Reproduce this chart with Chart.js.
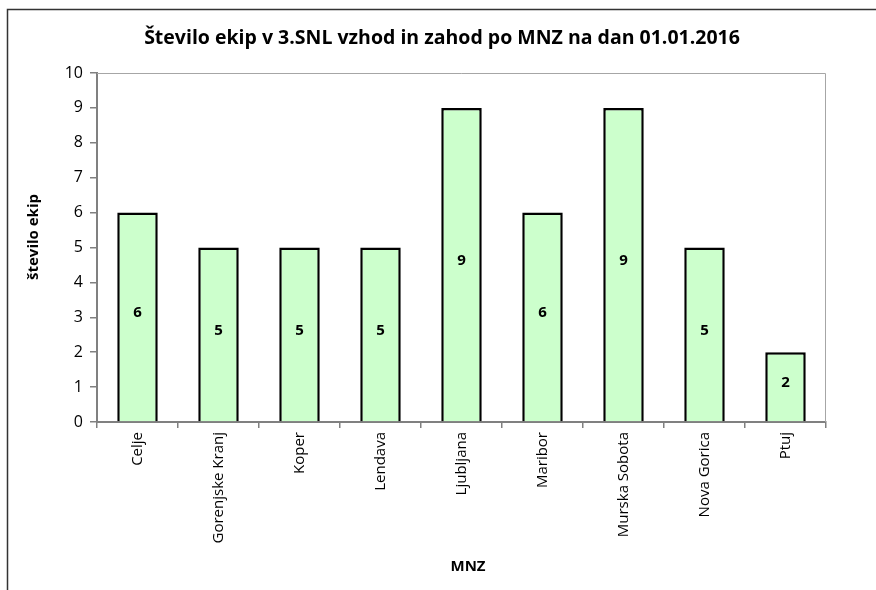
<!DOCTYPE html>
<html>
<head>
<meta charset="utf-8">
<script src="https://cdn.jsdelivr.net/npm/chart.js@4.4.0/dist/chart.umd.min.js"></script>
<style>
  html, body { margin: 0; padding: 0; background: #fff; }
  canvas { display: block; }
</style>
</head>
<body>
<canvas id="chart" width="876" height="590"></canvas>
<script>
// podatki
const categories = ['Celje', 'Gorenjske Kranj', 'Koper', 'Lendava', 'Ljubljana', 'Maribor', 'Murska Sobota', 'Nova Gorica', 'Ptuj'];
const teamCounts = [6, 5, 5, 5, 9, 6, 9, 5, 2];
const yMin = 0;
const yMax = 10;
const yStep = 1;

const chartTitle = 'Število ekip v 3.SNL vzhod in zahod po MNZ na dan 01.01.2016';
const xTitle = 'MNZ';
const yTitle = 'število ekip';

const FONT = "'Open Sans', 'DejaVu Sans', sans-serif";

// okvir, naslovi in vrednosti v stolpcih
const decorPlugin = {
    id: 'decor',
    beforeDraw(chart) {
        const ctx = chart.ctx;
        ctx.save();
        ctx.strokeStyle = '#333';
        ctx.lineWidth = 1.5;
        ctx.strokeRect(7.5, 9.5, 900, 600);

        ctx.fillStyle = '#000';
        ctx.textAlign = 'center';
        ctx.textBaseline = 'middle';
        ctx.font = 'bold 19.5px ' + FONT;
        ctx.fillText(chartTitle, 442, 38);

        ctx.font = 'bold 15px ' + FONT;
        ctx.fillText(xTitle, 468, 567);

        ctx.translate(34, 237);
        ctx.rotate(-Math.PI / 2);
        ctx.fillText(yTitle, 0, 0);
        ctx.restore();
    },
    beforeDatasetsDraw(chart) {
        const { ctx, chartArea: a } = chart;
        ctx.save();
        ctx.strokeStyle = '#a6a6a6';
        ctx.lineWidth = 1;
        ctx.beginPath();
        ctx.moveTo(a.left, a.top + 0.5);
        ctx.lineTo(a.right - 0.5, a.top + 0.5);
        ctx.lineTo(a.right - 0.5, a.bottom);
        ctx.stroke();
        ctx.restore();
    },
    afterDatasetsDraw(chart) {
        const ctx = chart.ctx;
        const meta = chart.getDatasetMeta(0);
        ctx.save();
        ctx.fillStyle = '#000';
        ctx.font = 'bold 15px ' + FONT;
        ctx.textAlign = 'center';
        ctx.textBaseline = 'middle';
        meta.data.forEach((bar, i) => {
            const y = (bar.y + bar.base) / 2 - 4;
            ctx.fillText(String(teamCounts[i]), bar.x, y);
        });
        ctx.restore();
    }
};

new Chart(document.getElementById('chart').getContext('2d'), {
    type: 'bar',
    data: {
        labels: categories,
        datasets: [{
            label: yTitle,
            data: teamCounts,
            backgroundColor: '#ccffcc',
            borderColor: '#000',
            borderWidth: 2.5,
            barPercentage: 0.5,
            categoryPercentage: 1.0
        }]
    },
    options: {
        responsive: false,
        animation: false,
        layout: { padding: { left: 8, right: 50, top: 73, bottom: 0 } },
        plugins: {
            legend: { display: false },
            tooltip: { enabled: false },
            title: { display: false }
        },
        scales: {
            x: {
                afterFit(scale) { scale.height = 168; },
                grid: {
                    drawOnChartArea: false,
                    drawTicks: true,
                    tickLength: 6,
                    color: '#808080',
                    lineWidth: 1.5,
                    offset: true
                },
                border: { color: '#808080', width: 2 },
                ticks: {
                    color: '#000',
                    font: { family: FONT, size: 15 },
                    minRotation: 90,
                    maxRotation: 90,
                    padding: 4
                }
            },
            y: {
                min: yMin,
                max: yMax,
                afterFit(scale) { scale.width = 89; },
                grid: {
                    drawOnChartArea: false,
                    drawTicks: true,
                    tickLength: 7,
                    color: '#808080',
                    lineWidth: 1.5
                },
                border: { color: '#808080', width: 2 },
                ticks: {
                    stepSize: yStep,
                    color: '#000',
                    font: { family: FONT, size: 16 },
                    padding: 7
                }
            }
        }
    },
    plugins: [decorPlugin]
});
</script>
</body>
</html>
